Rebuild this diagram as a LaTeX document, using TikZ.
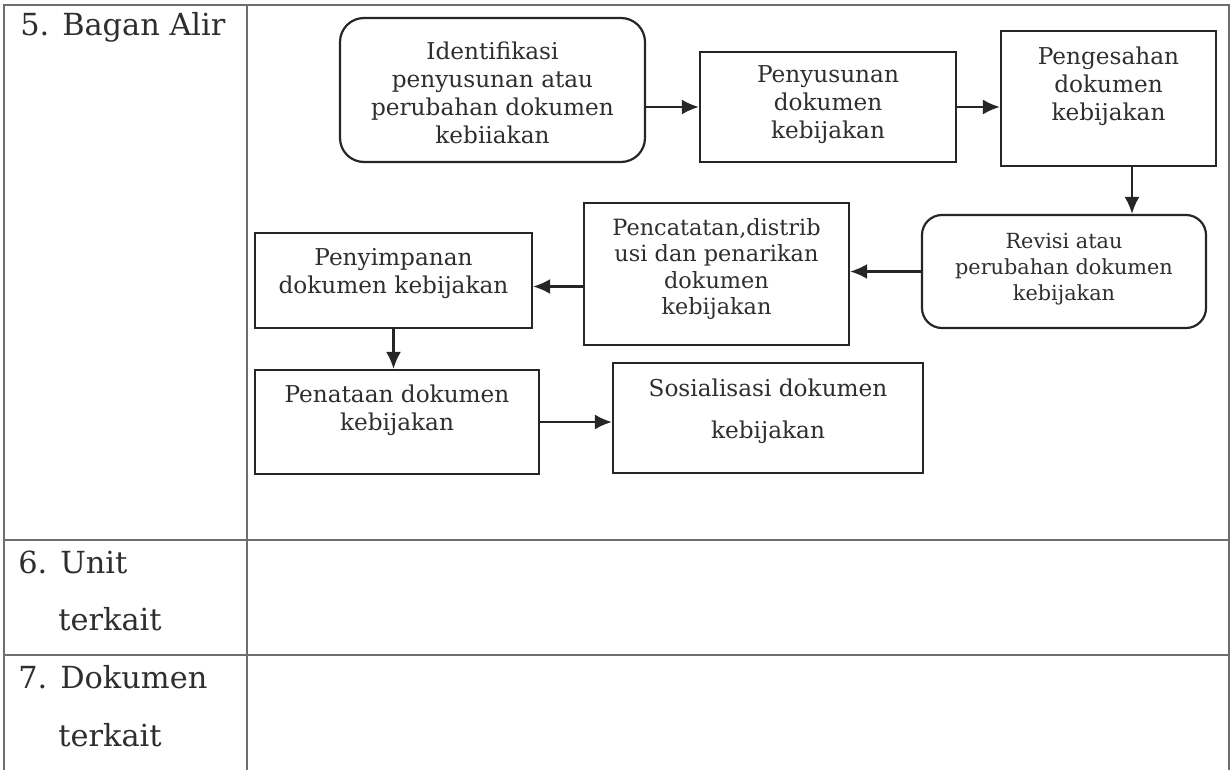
\documentclass[tikz,border=0pt]{standalone}
\usepackage{fontspec}
\setmainfont{DejaVu Serif}
\usepackage{tikz}
\usetikzlibrary{positioning,calc,arrows.meta}
\definecolor{inkline}{HTML}{262626}
\definecolor{inktext}{HTML}{2e2e2e}
\definecolor{rulegray}{HTML}{6e6e6e}

\tikzset{
  flowbox/.style={draw=inkline, line width=1.1pt, inner sep=0pt},
  roundbox/.style={flowbox, rounded corners=12pt},
  flowtext/.style={align=center, text=inktext, font=\fontsize{11.6}{14}\selectfont, inner sep=0pt},
  flowarrow/.style={draw=inkline, line width=1.1pt, -{Latex[length=8.5pt,width=7.5pt]}},
  rowlabel/.style={anchor=base west, inner sep=0pt, text=inktext, font=\fontsize{15.2}{18}\selectfont},
  tablerule/.style={draw=rulegray, line width=0.55pt}
}

\begin{document}
\begin{tikzpicture}[x=0.5pt, y=-0.5pt]
  \useasboundingbox (0,0) rectangle (1232,770);

  % Table frame: label column x in [4, 247], rows split at y = 540 and 655
  \draw[tablerule] (4,770) -- (4,5) -- (1229,5) -- (1229,770);
  \draw[tablerule] (247,5) -- (247,770);
  \draw[tablerule] (4,540) -- (1229,540);
  \draw[tablerule] (4,655) -- (1229,655);

  % Row labels
  \node[rowlabel] (lblBagan) at (20,36) {5. Bagan Alir};
  \node[rowlabel] (lblUnit) at (18,573) {6. Unit};
  \node[rowlabel] (lblUnitB) at (58,630) {terkait};
  \node[rowlabel] (lblDok) at (18,688) {7. Dokumen};
  \node[rowlabel] (lblDokB) at (58,746) {terkait};

  % Flow boxes, top row (left to right)
  \node[roundbox, minimum width=152.5pt, minimum height=72pt] (idf) at (492.5,90) {};
  \node[flowtext] (idfT) at (492.5,93) {Identifikasi\\penyusunan atau\\perubahan dokumen\\kebiiakan};
  \node[flowbox, minimum width=128pt, minimum height=55pt] (pys) at (828,107) {};
  \node[flowtext] (pysT) at (828,105) {Penyusunan\\dokumen\\kebijakan};
  \node[flowbox, minimum width=107.5pt, minimum height=67.5pt] (pgs) at (1108.5,98.5) {};
  \node[flowtext] (pgsT) at (1108.5,86) {Pengesahan\\dokumen\\kebijakan};

  % Middle row (right to left)
  \node[roundbox, rounded corners=10pt, minimum width=142pt, minimum height=56.5pt] (rev) at (1064,271.5) {};
  \node[flowtext, font=\fontsize{10.4}{13}\selectfont] (revT) at (1064,269) {Revisi atau\\perubahan dokumen\\kebijakan};
  \node[flowbox, minimum width=132.5pt, minimum height=71pt] (pct) at (716.5,274) {};
  \node[flowtext, font=\fontsize{11.2}{13.2}\selectfont] (pctT) at (716.5,269) {Pencatatan,distrib\\usi dan penarikan\\dokumen\\kebijakan};
  \node[flowbox, minimum width=138.5pt, minimum height=47.5pt] (spn) at (393.5,280.5) {};
  \node[flowtext] (spnT) at (393.5,273.5) {Penyimpanan\\dokumen kebijakan};

  % Bottom row (left to right)
  \node[flowbox, minimum width=142pt, minimum height=52pt] (ptn) at (397,422) {};
  \node[flowtext] (ptnT) at (397,410) {Penataan dokumen\\kebijakan};
  \node[flowbox, minimum width=155pt, minimum height=55pt] (sos) at (768,418) {};
  \node[flowtext, font=\fontsize{11.6}{21}\selectfont] (sosT) at (768,411) {Sosialisasi dokumen\\kebijakan};

  % Connectors
  \draw[flowarrow] (pys.west -| idf.east) -- (pys.west);
  \draw[flowarrow] (pys.east) -- (pys.east -| pgs.west);
  \draw[flowarrow] ([xshift=11.75pt]pgs.south) -- ([xshift=11.75pt]pgs.south |- rev.north);
  \draw[flowarrow] (rev.west) -- (rev.west -| pct.east);
  \draw[flowarrow] ([yshift=-3pt]pct.west |- spn.east) -- ([yshift=-3pt]spn.east);
  \draw[flowarrow] (spn.south) -- (spn.south |- ptn.north);
  \draw[flowarrow] (ptn.east) -- (ptn.east -| sos.west);
\end{tikzpicture}
\end{document}
